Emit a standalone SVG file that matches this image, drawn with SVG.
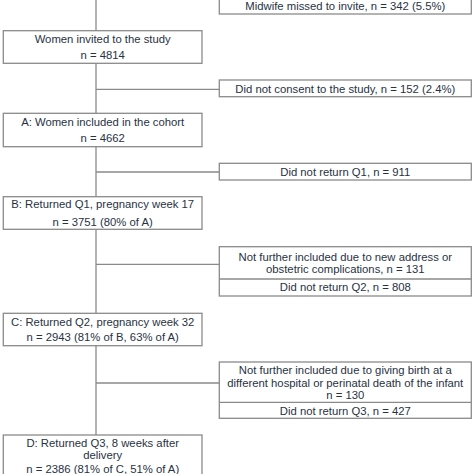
<svg xmlns="http://www.w3.org/2000/svg" width="474" height="474" viewBox="0 0 474 474">
<style>
.box{fill:#ffffff;stroke:#8a8a8a;stroke-width:1.3}
.ln{stroke:#8a8a8a;stroke-width:1.3;fill:none}
text{font-family:"Liberation Sans",Arial,sans-serif;font-size:11.3px;fill:#28323f;text-anchor:middle}
</style>
<rect width="474" height="474" fill="#ffffff"/>
<g id="connectors">
<line class="ln" x1="96" y1="0" x2="96" y2="31"/>
<line class="ln" x1="96" y1="63" x2="96" y2="113"/>
<line class="ln" x1="96" y1="147" x2="96" y2="197"/>
<line class="ln" x1="96" y1="229" x2="96" y2="313"/>
<line class="ln" x1="96" y1="346" x2="96" y2="435"/>
<line class="ln" x1="96" y1="89.3" x2="219.3" y2="89.3"/>
<line class="ln" x1="96" y1="172" x2="219.3" y2="172"/>
<line class="ln" x1="96" y1="264.3" x2="219.3" y2="264.3"/>
<line class="ln" x1="96" y1="383" x2="219.3" y2="383"/>
</g>
<g id="missed">
<rect class="box" x="219.3" y="-10" width="252" height="24"/>
<text x="345.3" y="10">Midwife missed to invite, n = 342 (5.5%)</text>
</g>
<g id="invited">
<rect class="box" x="3.3" y="30.7" width="198.7" height="32.6"/>
<text x="102.7" y="43.3">Women invited to the study</text>
<text x="102.7" y="59">n = 4814</text>
</g>
<g id="noconsent">
<rect class="box" x="219.3" y="80" width="252" height="16.7"/>
<text x="345.3" y="93.3">Did not consent to the study, n = 152 (2.4%)</text>
</g>
<g id="A">
<rect class="box" x="3.3" y="113.3" width="198.7" height="33.4"/>
<text x="102.7" y="125.7">A: Women included in the cohort</text>
<text x="102.7" y="141.7">n = 4662</text>
</g>
<g id="noQ1">
<rect class="box" x="219.3" y="163.3" width="252" height="16.7"/>
<text x="345.3" y="176">Did not return Q1, n = 911</text>
</g>
<g id="B">
<rect class="box" x="3.3" y="196.7" width="198.7" height="32.6"/>
<text x="102.7" y="208.3">B: Returned Q1, pregnancy week 17</text>
<text x="102.7" y="225.7">n = 3751 (80% of A)</text>
</g>
<g id="exclQ2">
<rect class="box" x="219.3" y="246.7" width="252" height="49.3"/>
<line class="ln" x1="219.3" y1="279" x2="471.3" y2="279"/>
<text x="345.3" y="260.7">Not further included due to new address or</text>
<text x="345.3" y="273.3">obstetric complications, n = 131</text>
<text x="345.3" y="291.3">Did not return Q2, n = 808</text>
</g>
<g id="C">
<rect class="box" x="3.3" y="313.3" width="198.7" height="32.4"/>
<text x="102.7" y="325.7">C: Returned Q2, pregnancy week 32</text>
<text x="102.7" y="341.3">n = 2943 (81% of B, 63% of A)</text>
</g>
<g id="exclQ3">
<rect class="box" x="219.3" y="362" width="252" height="56.3"/>
<line class="ln" x1="219.3" y1="402.3" x2="471.3" y2="402.3"/>
<text x="345.3" y="374">Not further included due to giving birth at a</text>
<text x="345.3" y="386.7">different hospital or perinatal death of the infant</text>
<text x="345.3" y="399">n = 130</text>
<text x="345.3" y="415">Did not return Q3, n = 427</text>
</g>
<g id="D">
<rect class="box" x="3.3" y="435" width="198.7" height="60"/>
<text x="102.7" y="446.7">D: Returned Q3, 8 weeks after</text>
<text x="102.7" y="459">delivery</text>
<text x="102.7" y="473.3">n = 2386 (81% of C, 51% of A)</text>
</g>
</svg>
